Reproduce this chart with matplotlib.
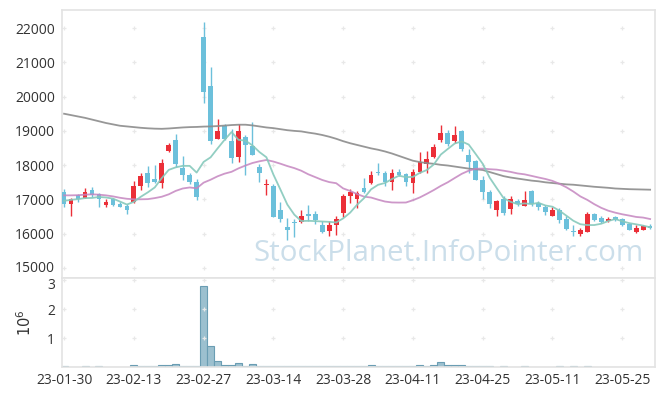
import numpy as np
import pandas as pd
import matplotlib
matplotlib.use("Agg")
import matplotlib.pyplot as plt
import matplotlib.transforms as mtransforms

plt.rcParams['font.family'] = ['Open Sans', 'DejaVu Sans']

# trading-day index 0..84 (2023-01-30 .. 2023-06-01)
tick_pos = [0, 10, 20, 30, 40, 50, 60, 70, 80]
tick_labels = ['23-01-30', '23-02-13', '23-02-27', '23-03-14', '23-03-28',
               '23-04-11', '23-04-25', '23-05-11', '23-05-25']

opens = [17213, 16854, 17116, 17048, 17262, 17155, 16845, 17000, 16864, 16806,
         16932, 17398, 17776, 17592, 17485, 18416, 18727, 17910, 17700, 17510,
         21730, 20310, 18774, 19144, 18706, 18230, 18830, 18560, 17958, 17420,
         17400, 16701, 16205, 16344, 16332, 16565, 16565, 16244, 16070, 16255,
         16614, 17091, 17028, 17343, 17470, 17810, 17770, 17500, 17790, 17752,
         17480, 17800, 18043, 18238, 18724, 18938, 18695, 18996, 18306, 18130,
         17557, 17217, 16701, 17012, 16720, 16944, 16799, 17246, 16896, 16780,
         16527, 16701, 16430, 16080, 16001, 16040, 16585, 16458, 16361, 16487,
         16429, 16293, 16040, 16118, 16235]
highs = [17300, 17030, 17145, 17320, 17360, 17194, 17020, 17039, 16932, 16864,
         17534, 17776, 17970, 18018, 18193, 18660, 18920, 18260, 17776, 17600,
         22186, 20874, 19338, 19192, 19046, 19210, 18870, 19250, 18035, 17590,
         17450, 16940, 16458, 16422, 16701, 16837, 16653, 16361, 16361, 16520,
         17168, 17305, 17246, 17625, 17820, 18063, 17820, 17888, 17888, 17771,
         17888, 18374, 18403, 18627, 19161, 19015, 19132, 19035, 18471, 18160,
         17673, 17285, 16993, 17090, 17090, 17012, 17246, 17285, 16944, 16847,
         16780, 16750, 16507, 16264, 16167, 16643, 16604, 16507, 16487, 16527,
         16458, 16312, 16264, 16264, 16293]
lows = [16767, 16525, 16922, 17048, 17078, 16767, 16786, 16816, 16767, 16563,
        16884, 17272, 17369, 17485, 17320, 18387, 17950, 17580, 17446, 16990,
        19804, 18620, 18774, 18735, 18055, 18100, 17722, 18290, 17520, 17120,
        16480, 16350, 15826, 15918, 16312, 16361, 16293, 16021, 15924, 15950,
        16500, 16896, 16760, 17188, 17450, 17722, 17383, 17285, 17674, 17383,
        17188, 17771, 17771, 18209, 18665, 18549, 18646, 18403, 17771, 17557,
        17012, 16750, 16526, 16556, 16585, 16818, 16799, 16818, 16701, 16556,
        16527, 16312, 16099, 15943, 15924, 16040, 16361, 16312, 16332, 16361,
        16235, 16118, 16021, 16118, 16138]
closes = [16854, 17010, 17010, 17213, 17136, 17000, 16932, 16845, 16786, 16700,
          17388, 17680, 17485, 17504, 18057, 18590, 18048, 17700, 17504, 17080,
          20145, 18716, 18998, 18755, 18220, 19005, 18600, 18307, 17783, 17460,
          16485, 16429, 16098, 16315, 16526, 16517, 16390, 16040, 16264, 16435,
          17110, 17227, 17198, 17227, 17713, 17770, 17500, 17770, 17713, 17500,
          17810, 18092, 18180, 18530, 18938, 18627, 18889, 18471, 18082, 17557,
          17207, 16867, 16964, 16604, 17012, 16876, 16974, 16867, 16780, 16624,
          16701, 16390, 16138, 16040, 16118, 16585, 16390, 16332, 16429, 16410,
          16264, 16118, 16157, 16235, 16167]

# volume in millions of shares
volumes = [0.03, 0, 0, 0.03, 0, 0.03, 0, 0, 0, 0,
           0.08, 0.05, 0.02, 0.05, 0.08, 0.08, 0.115, 0.05, 0.02, 0.02,
           2.78, 0.735, 0.195, 0.08, 0.08, 0.15, 0.05, 0.115, 0.05, 0.05,
           0.05, 0.05, 0.05, 0.05, 0.02, 0.02, 0.02, 0.02, 0.02, 0.02,
           0.05, 0.03, 0.03, 0.03, 0.07, 0.03, 0.03, 0.03, 0.03, 0.03,
           0.03, 0.07, 0.03, 0.07, 0.17, 0.07, 0.07, 0.07, 0.03, 0.03,
           0.03, 0.03, 0, 0.03, 0, 0, 0.03, 0, 0, 0,
           0, 0.03, 0, 0.03, 0, 0.03, 0, 0, 0, 0,
           0, 0, 0, 0, 0]

ma5_head = [16960, 16990, 17010, 17040]
ma20_head = [17120, 17120, 17125, 17140, 17150, 17140, 17120, 17090, 17050, 17020,
             17005, 17005, 17010, 17040, 17080, 17150, 17250, 17320, 17350]
ma_long = [19500, 19460, 19420, 19380, 19330, 19280, 19230, 19190, 19150, 19130,
           19110, 19090, 19075, 19065, 19060, 19070, 19085, 19100, 19110, 19115,
           19125, 19130, 19140, 19155, 19170, 19180, 19180, 19160, 19130, 19100,
           19080, 19050, 19020, 19000, 18985, 18950, 18920, 18880, 18830, 18770,
           18700, 18640, 18590, 18540, 18490, 18450, 18400, 18340, 18270, 18200,
           18130, 18090, 18060, 18040, 18010, 17990, 17960, 17930, 17900, 17880,
           17860, 17800, 17740, 17680, 17640, 17610, 17580, 17550, 17530, 17500,
           17480, 17460, 17440, 17430, 17410, 17390, 17370, 17355, 17340, 17320,
           17310, 17300, 17295, 17290, 17285]

UP = '#eb2f38'
DOWN = '#6cc0db'
GRID = '#e8e8e8'

x = np.arange(len(closes))
o = np.array(opens, float)
h = np.array(highs, float)
l = np.array(lows, float)
c = np.array(closes, float)

cs = pd.Series(c)
ma5 = cs.rolling(5).mean().to_numpy()
ma5[:4] = ma5_head
ma20 = cs.rolling(20).mean().to_numpy()
ma20[:19] = ma20_head

fig = plt.figure(figsize=(6.65, 3.96), dpi=100)
ax = fig.add_axes([62 / 665, 1 - 278 / 396, 593 / 665, 268 / 396])
axv = fig.add_axes([62 / 665, 1 - 367 / 396, 593 / 665, 89 / 396], sharex=ax)

up = c >= o
cols = np.where(up, UP, DOWN)
ax.vlines(x, l, h, colors=cols, linewidth=1.0, zorder=3)
body_lo = np.minimum(o, c)
body_h = np.maximum(np.abs(c - o), 25)
ax.bar(x, body_h, bottom=body_lo, width=0.68, color=cols, linewidth=0, zorder=3)

ax.plot(x, ma_long, color='#8c8c8c', linewidth=1.3, alpha=0.9, zorder=4)
ax.plot(x, ma20, color='#c586c0', linewidth=1.3, alpha=0.85, zorder=4)
ax.plot(x, ma5, color='#86c9bc', linewidth=1.3, alpha=0.9, zorder=4)

ax.set_xlim(-0.3, 84.7)
ax.set_ylim(14710, 22525)
yt = np.arange(15000, 22001, 1000)
ax.set_yticks(yt)
ax.set_yticklabels([str(v) for v in yt])
gx, gy = np.meshgrid(tick_pos, yt)
ax.scatter(gx.ravel(), gy.ravel(), marker='+', s=12, color=GRID, linewidths=0.9, zorder=1)

ax.text(0.652, 0.09, 'StockPlanet.InfoPointer.com', transform=ax.transAxes,
        ha='center', va='center', fontsize=21.3, color='#c6dbe8', alpha=0.9, zorder=5)

axv.bar(x, volumes, width=1.0, color='#9cc0cf', edgecolor='#6a9db3', linewidth=0.8, zorder=2)
axv.set_ylim(0, 3.07)
axv.set_yticks([1, 2, 3])
axv.set_yticklabels(['1', '2', '3'])
vx, vy = np.meshgrid(tick_pos, [1, 2, 3])
axv.scatter(vx.ravel(), vy.ravel(), marker='+', s=12, color=GRID, linewidths=0.9, zorder=3)
axv.set_ylabel('$10^6$', fontsize=10.5, color='#333333', labelpad=9)

axv.set_xticks(tick_pos)
axv.set_xticklabels(tick_labels)
ax.tick_params(axis='x', labelbottom=False, length=0)

for a in (ax, axv):
    a.tick_params(axis='both', length=0, labelsize=10, labelcolor='#333333', pad=5)
    for s in a.spines.values():
        s.set_color('#e3e3e3')
        s.set_linewidth(1.2)
    a.set_facecolor('white')
axv.tick_params(axis='x', pad=4)

# keep the top volume label clear of the lowest price label
top_lbl = axv.get_yticklabels()[-1]
top_lbl.set_transform(top_lbl.get_transform() +
                      mtransforms.ScaledTranslation(0, -2.5 / 72, fig.dpi_scale_trans))
low_lbl = ax.get_yticklabels()[0]
low_lbl.set_transform(low_lbl.get_transform() +
                      mtransforms.ScaledTranslation(0, 1.0 / 72, fig.dpi_scale_trans))

fig.savefig('out.png', dpi=100)
